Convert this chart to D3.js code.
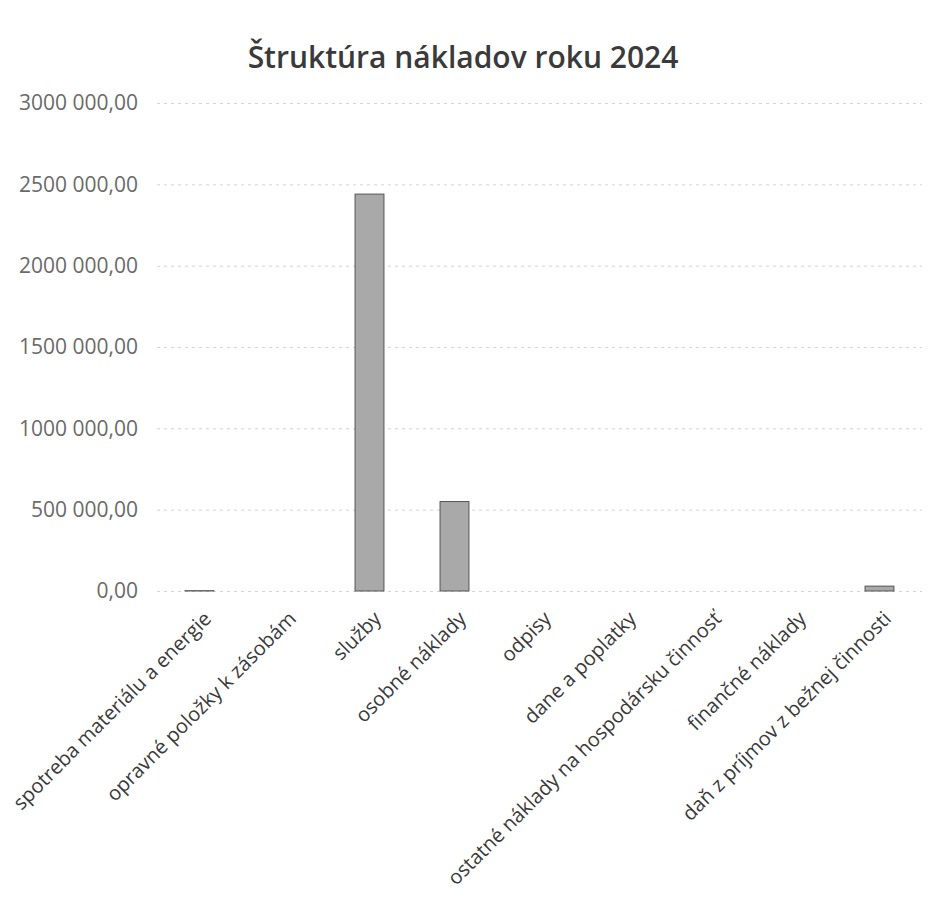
<!DOCTYPE html>
<html><head><meta charset="utf-8">
<script src="https://cdn.jsdelivr.net/npm/d3@7"></script>
<style>body{margin:0;background:#fff}</style>
</head><body>
<svg id="c" width="940" height="912"></svg>
<script>
const title = "Štruktúra nákladov roku 2024";
const categories = [
  "spotreba materiálu a energie",
  "opravné položky k zásobám",
  "služby",
  "osobné náklady",
  "odpisy",
  "dane a poplatky",
  "ostatné náklady na hospodársku činnosť",
  "finančné náklady",
  "daň z príjmov z bežnej činnosti"
];
const values = [2000, 0, 2440000, 550000, 0, 0, 0, 0, 30000];
const tickValues = [0, 500000, 1000000, 1500000, 2000000, 2500000, 3000000];
const tickLabels = ["0,00", "500 000,00", "1000 000,00", "1500 000,00", "2000 000,00", "2500 000,00", "3000 000,00"];

const svg = d3.select("#c");
const font = "'Open Sans', 'Liberation Sans', sans-serif";
const plotL = 157, plotR = 922, plotT = 103, plotB = 591;

const x = d3.scaleBand().domain(categories).range([plotL, plotR]).paddingInner(0.66).paddingOuter(0.33);
const y = d3.scaleLinear().domain([0, 3000000]).range([plotB, plotT]);

svg.append("text").attr("x", 463).attr("y", 68).attr("text-anchor", "middle")
  .attr("font-family", font).attr("font-size", 30).attr("font-weight", 600).attr("fill", "#3a3a3a")
  .text(title);

// gridlines
svg.append("g").selectAll("line").data(tickValues).join("line")
  .attr("x1", plotL).attr("x2", plotR)
  .attr("y1", d => y(d) + 0.5).attr("y2", d => y(d) + 0.5)
  .attr("stroke", "#d4d4d4").attr("stroke-width", 1).attr("stroke-dasharray", "3,4");

// y axis labels
const yAxis = d3.axisLeft(y).tickValues(tickValues).tickFormat((d, i) => tickLabels[i]).tickSize(0).tickPadding(0);
const ga = svg.append("g").attr("transform", "translate(138,0)").call(yAxis);
ga.select(".domain").remove();
ga.selectAll("text").attr("font-family", font).attr("font-size", 21).attr("fill", "#6a6a6a");

// bars
svg.append("g").selectAll("rect").data(values).join("rect")
  .attr("x", (d, i) => x(categories[i]))
  .attr("width", x.bandwidth())
  .attr("y", d => y(d))
  .attr("height", d => y(0) - y(d))
  .attr("fill", "#a9a9a9").attr("stroke", "#555").attr("stroke-width", 1);

// x labels
const xAxis = d3.axisBottom(x).tickSize(0).tickPadding(0);
const gx = svg.append("g").attr("transform", `translate(0,${plotB})`).call(xAxis);
gx.select(".domain").remove();
gx.selectAll("text")
  .attr("font-family", font).attr("font-size", 20).attr("fill", "#3a3a3a")
  .attr("text-anchor", "end")
  .attr("dy", "0.35em").attr("y", 0)
  .attr("transform", "translate(8,24) rotate(-45)");
</script>
</body></html>
